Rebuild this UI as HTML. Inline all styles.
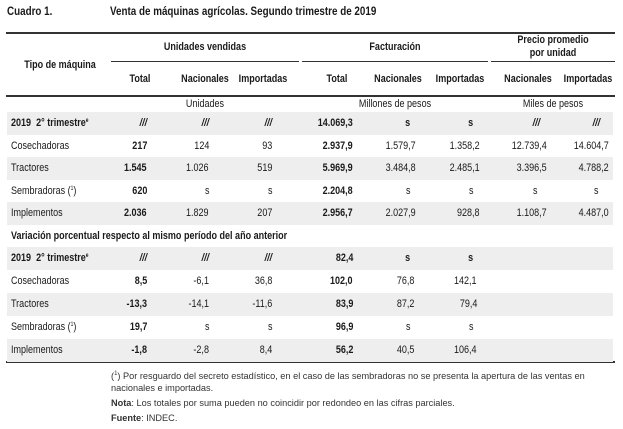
<!DOCTYPE html>
<html><head><meta charset="utf-8"><style>
body{margin:0;width:623px;height:429px;background:#fff;position:relative;overflow:hidden;font-family:"Liberation Sans",Arial,sans-serif;color:#1a1a1a}
.a{position:absolute;white-space:nowrap}
.t{font-size:11px;line-height:12px}
.b{font-weight:bold}
.n{transform:scaleX(.82);transform-origin:right center}
.l{transform:scaleX(.82);transform-origin:left center}
.c{transform:scaleX(.82);transform-origin:center center;text-align:center}
.ln{position:absolute;background:#333}
.row{position:absolute;left:7px;width:606px;height:23px}
.row .a{top:5px}
.g{background:#eeeeee}
.f{font-size:9.2px;line-height:10px;color:#333}
.s{font-size:6px;position:relative;top:-4px;line-height:0}
</style></head><body>
<div class="a t b l" style="left:7px;top:5px;font-size:12px">Cuadro 1.</div>
<div class="a t b l" style="left:110px;top:5px;font-size:12px">Venta de máquinas agrícolas. Segundo trimestre de 2019</div>
<div class="ln" style="left:6px;top:32px;width:609px;height:2px"></div>
<div class="ln" style="left:111px;top:61px;width:188px;height:1px"></div>
<div class="ln" style="left:302px;top:61px;width:186px;height:1px"></div>
<div class="ln" style="left:491px;top:61px;width:124px;height:1px"></div>
<div class="ln" style="left:6px;top:95px;width:609px;height:2px"></div>
<div class="ln" style="left:6px;top:361px;width:609px;height:2px"></div>

<div class="a t b c" style="left:10px;width:100px;top:59px">Tipo de máquina</div>
<div class="a t b c" style="left:111px;width:188px;top:41px">Unidades vendidas</div>
<div class="a t b c" style="left:302px;width:186px;top:41px">Facturación</div>
<div class="a t b c" style="left:491px;width:124px;top:34px">Precio promedio</div>
<div class="a t b c" style="left:491px;width:124px;top:47px">por unidad</div>
<div class="a t b c" style="left:115px;width:50px;top:73px">Total</div>
<div class="a t b c" style="left:175px;width:60px;top:73px">Nacionales</div>
<div class="a t b c" style="left:233px;width:60px;top:73px">Importadas</div>
<div class="a t b c" style="left:312px;width:50px;top:73px">Total</div>
<div class="a t b c" style="left:368px;width:60px;top:73px">Nacionales</div>
<div class="a t b c" style="left:430px;width:60px;top:73px">Importadas</div>
<div class="a t b c" style="left:498px;width:60px;top:73px">Nacionales</div>
<div class="a t b c" style="left:558px;width:60px;top:73px">Importadas</div>
<div class="a t c" style="left:111px;width:188px;top:98px">Unidades</div>
<div class="a t c" style="left:302px;width:186px;top:98px">Millones de pesos</div>
<div class="a t c" style="left:491px;width:124px;top:98px">Miles de pesos</div>

<div class="row g" style="top:112px"><span class="a t b l" style="left:4px">2019&nbsp; 2° trimestre<span class="s">e</span></span><span class="a t b n" style="right:466px"><i>///</i></span><span class="a t b n" style="right:404px"><i>///</i></span><span class="a t b n" style="right:341px"><i>///</i></span><span class="a t b n" style="right:260px">14.069,3</span><span class="a t b n" style="right:203px">s</span><span class="a t b n" style="right:140px">s</span><span class="a t b n" style="right:73px"><i>///</i></span><span class="a t b n" style="right:13px"><i>///</i></span></div>
<div class="row" style="top:135px"><span class="a t l" style="left:4px">Cosechadoras</span><span class="a t b n" style="right:466px">217</span><span class="a t n" style="right:404px">124</span><span class="a t n" style="right:341px">93</span><span class="a t b n" style="right:260px">2.937,9</span><span class="a t n" style="right:197px">1.579,7</span><span class="a t n" style="right:133px">1.358,2</span><span class="a t n" style="right:66px">12.739,4</span><span class="a t n" style="right:4px">14.604,7</span></div>
<div class="row g" style="top:157px"><span class="a t l" style="left:4px">Tractores</span><span class="a t b n" style="right:466px">1.545</span><span class="a t n" style="right:404px">1.026</span><span class="a t n" style="right:341px">519</span><span class="a t b n" style="right:260px">5.969,9</span><span class="a t n" style="right:197px">3.484,8</span><span class="a t n" style="right:133px">2.485,1</span><span class="a t n" style="right:66px">3.396,5</span><span class="a t n" style="right:4px">4.788,2</span></div>
<div class="row" style="top:180px"><span class="a t l" style="left:4px">Sembradoras (<span class="s">1</span>)</span><span class="a t b n" style="right:466px">620</span><span class="a t n" style="right:404px">s</span><span class="a t n" style="right:341px">s</span><span class="a t b n" style="right:260px">2.204,8</span><span class="a t n" style="right:203px">s</span><span class="a t n" style="right:140px">s</span><span class="a t n" style="right:76px">s</span><span class="a t n" style="right:15px">s</span></div>
<div class="row g" style="top:202px"><span class="a t l" style="left:4px">Implementos</span><span class="a t b n" style="right:466px">2.036</span><span class="a t n" style="right:404px">1.829</span><span class="a t n" style="right:341px">207</span><span class="a t b n" style="right:260px">2.956,7</span><span class="a t n" style="right:197px">2.027,9</span><span class="a t n" style="right:133px">928,8</span><span class="a t n" style="right:66px">1.108,7</span><span class="a t n" style="right:4px">4.487,0</span></div>
<div class="a t b l" style="left:11px;top:230px">Variación porcentual respecto al mismo período del año anterior</div>
<div class="row g" style="top:247px"><span class="a t b l" style="left:4px">2019&nbsp; 2° trimestre<span class="s">e</span></span><span class="a t b n" style="right:466px"><i>///</i></span><span class="a t b n" style="right:404px"><i>///</i></span><span class="a t b n" style="right:341px"><i>///</i></span><span class="a t b n" style="right:260px">82,4</span><span class="a t b n" style="right:203px">s</span><span class="a t b n" style="right:140px">s</span></div>
<div class="row" style="top:270px"><span class="a t l" style="left:4px">Cosechadoras</span><span class="a t b n" style="right:466px">8,5</span><span class="a t n" style="right:404px">-6,1</span><span class="a t n" style="right:341px">36,8</span><span class="a t b n" style="right:260px">102,0</span><span class="a t n" style="right:199px">76,8</span><span class="a t n" style="right:136px">142,1</span></div>
<div class="row g" style="top:293px"><span class="a t l" style="left:4px">Tractores</span><span class="a t b n" style="right:466px">-13,3</span><span class="a t n" style="right:404px">-14,1</span><span class="a t n" style="right:341px">-11,6</span><span class="a t b n" style="right:260px">83,9</span><span class="a t n" style="right:199px">87,2</span><span class="a t n" style="right:136px">79,4</span></div>
<div class="row" style="top:316px"><span class="a t l" style="left:4px">Sembradoras (<span class="s">1</span>)</span><span class="a t b n" style="right:466px">19,7</span><span class="a t n" style="right:404px">s</span><span class="a t n" style="right:341px">s</span><span class="a t b n" style="right:260px">96,9</span><span class="a t n" style="right:203px">s</span><span class="a t n" style="right:140px">s</span></div>
<div class="row g" style="top:339px"><span class="a t l" style="left:4px">Implementos</span><span class="a t b n" style="right:466px">-1,8</span><span class="a t n" style="right:404px">-2,8</span><span class="a t n" style="right:341px">8,4</span><span class="a t b n" style="right:260px">56,2</span><span class="a t n" style="right:199px">40,5</span><span class="a t n" style="right:136px">106,4</span></div>

<div class="a f" style="left:111px;top:371px">(<span class="s">1</span>) Por resguardo del secreto estadístico, en el caso de las sembradoras no se presenta la apertura de las ventas en</div>
<div class="a f" style="left:111px;top:383px">nacionales e importadas.</div>
<div class="a f" style="left:111px;top:398px"><b>Nota</b>: Los totales por suma pueden no coincidir por redondeo en las cifras parciales.</div>
<div class="a f" style="left:111px;top:413px"><b>Fuente</b>: INDEC.</div>
</body></html>
